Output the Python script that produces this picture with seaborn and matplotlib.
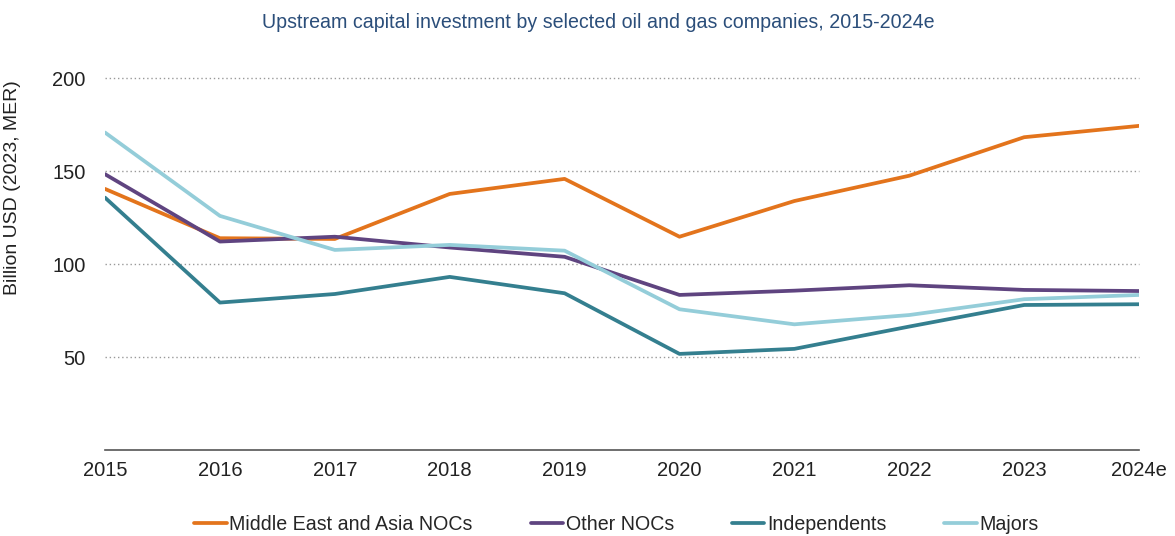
import numpy as np
import pandas as pd
import matplotlib
matplotlib.use("Agg")
import matplotlib.pyplot as plt
import seaborn as sns

years = [2015, 2016, 2017, 2018, 2019, 2020, 2021, 2022, 2023, 2024]
year_labels = ["2015", "2016", "2017", "2018", "2019", "2020", "2021", "2022", "2023", "2024e"]

me_asia_nocs = [140.5, 114, 113.6, 137.8, 145.9, 114.8, 134, 147.6, 168.3, 174.4]
other_nocs = [148.4, 112.2, 114.8, 109, 104, 83.5, 85.8, 88.7, 86.2, 85.6]
independents = [135.8, 79.4, 84, 93.2, 84.4, 51.8, 54.5, 66.5, 78.1, 78.5]
majors = [170.8, 126, 107.7, 110.4, 107.3, 75.8, 67.7, 72.7, 81.2, 83.5]

series_names = ["Middle East and Asia NOCs", "Other NOCs", "Independents", "Majors"]
colors = ["#e3741c", "#5f4480", "#347f8f", "#94cdd9"]
yticks = [50, 100, 150, 200]

df = pd.concat([
    pd.DataFrame({"year": years, "value": vals, "series": name})
    for name, vals in zip(series_names, [me_asia_nocs, other_nocs, independents, majors])
])

sns.set_theme(style="white")
plt.rcParams["font.family"] = ["Liberation Sans", "DejaVu Sans"]

fig = plt.figure(figsize=(11.75, 5.36), dpi=100)
ax = fig.add_axes([0.0894, 0.16, 0.9694 - 0.0894, 0.854 - 0.16])

sns.lineplot(data=df, x="year", y="value", hue="series", hue_order=series_names,
             palette=colors, linewidth=2.7, ax=ax, legend=True, sort=False)

ax.set_xlim(2015, 2024)
ax.set_ylim(0, 200)
ax.set_xticks(years)
ax.set_xticklabels(year_labels, fontsize=14.5, color="#222222")
ax.set_yticks(yticks)
ax.set_yticklabels([str(v) for v in yticks], fontsize=14.5, color="#222222")
ax.tick_params(axis="both", length=0, pad=8)
ax.tick_params(axis="y", pad=14)
ax.set_xlabel("")
ax.set_ylabel("Billion USD (2023, MER)", fontsize=14, color="#222222")
ax.yaxis.set_label_coords(-0.081, 0.705)

for s in ["top", "right", "left"]:
    ax.spines[s].set_visible(False)
ax.spines["bottom"].set_color("#555555")
ax.spines["bottom"].set_linewidth(1.2)

ax.yaxis.grid(True, linestyle=(0, (1, 2)), color="#999999", linewidth=1.0)
ax.xaxis.grid(False)
for gl in ax.get_ygridlines():
    gl.set_clip_on(False)
ax.set_axisbelow(True)

fig.text(0.509, 0.958, "Upstream capital investment by selected oil and gas companies, 2015-2024e",
         ha="center", va="center", fontsize=14.1, color="#2b4e7a")

handles, labels = ax.get_legend_handles_labels()
ax.legend_.remove()
fig.legend(handles, labels, loc="center", bbox_to_anchor=(0.5247, 0.022), ncol=4, frameon=False,
           fontsize=14.1, handlelength=1.65, handletextpad=0.15, columnspacing=2.95)

fig.savefig("out.png", dpi=100)
